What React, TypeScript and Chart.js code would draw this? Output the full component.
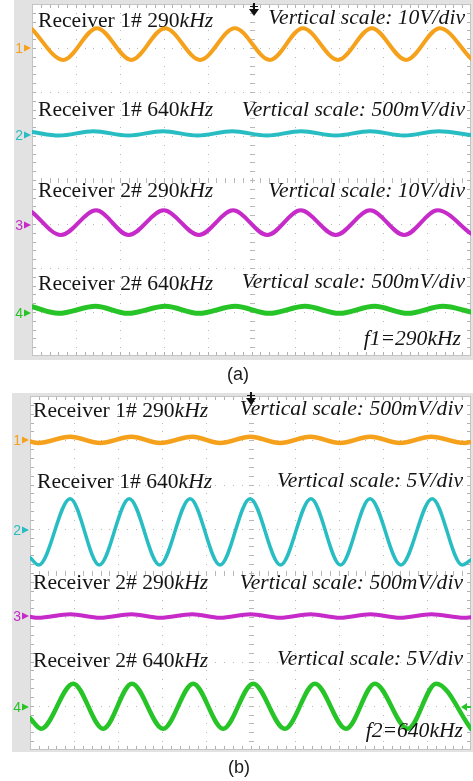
import React, { useEffect, useRef } from "react";
import { Chart, registerables } from "chart.js";

Chart.register(...registerables);

// ---------- DATA (x in divisions 0..10, y in divisions 0..8, 0 = bottom) ----------
// Panel (a): f1 = 290 kHz
const a1X = [0, 0.71, 1.48, 2.26, 3.03, 3.83, 4.62, 5.42, 6.17, 6.97, 7.74, 8.52, 9.29, 10];
const a1Y = [7.43, 6.73, 7.45, 6.73, 7.45, 6.73, 7.45, 6.73, 7.45, 6.73, 7.45, 6.73, 7.45, 6.76];
const a2X = [0, 0.62, 1.4, 2.19, 2.98, 3.77, 4.56, 5.35, 6.13, 6.92, 7.7, 8.48, 9.26, 10];
const a2Y = [5.09, 5.01, 5.11, 5.01, 5.11, 5.01, 5.11, 5.01, 5.11, 5.01, 5.11, 5.01, 5.11, 5.02];
const a3X = [0, 0.66, 1.46, 2.2, 3.0, 3.8, 4.58, 5.36, 6.12, 6.92, 7.7, 8.48, 9.24, 10];
const a3Y = [3.27, 2.75, 3.31, 2.75, 3.31, 2.75, 3.31, 2.75, 3.31, 2.75, 3.31, 2.75, 3.31, 2.78];
const a4X = [0, 0.6, 1.45, 2.18, 3.04, 3.8, 4.63, 5.4, 6.22, 7.0, 7.8, 8.56, 9.36, 10];
const a4Y = [1.12, 0.97, 1.13, 0.97, 1.13, 0.97, 1.13, 0.97, 1.13, 0.97, 1.13, 0.97, 1.13, 1.0];

// Panel (b): f2 = 640 kHz
const b1X = [0, 0.18, 0.91, 1.59, 2.3, 2.95, 3.68, 4.31, 5.0, 5.67, 6.36, 7.03, 7.72, 8.39, 9.1, 9.85, 10];
const b1Y = [6.97, 6.94, 7.08, 6.94, 7.08, 6.94, 7.08, 6.94, 7.08, 6.94, 7.08, 6.94, 7.08, 6.94, 7.08, 6.94, 6.96];
const b2X = [0, 0.2, 0.91, 1.57, 2.25, 2.94, 3.63, 4.31, 4.99, 5.68, 6.37, 7.04, 7.71, 8.41, 9.12, 9.8, 10];
const b2Y = [4.35, 4.18, 5.68, 4.18, 5.68, 4.18, 5.68, 4.18, 5.68, 4.18, 5.68, 4.18, 5.68, 4.18, 5.68, 4.18, 4.3];
const b3X = [0, 0.18, 0.91, 1.59, 2.3, 2.95, 3.68, 4.31, 5.0, 5.67, 6.36, 7.03, 7.72, 8.39, 9.1, 9.85, 10];
const b3Y = [3.01, 2.99, 3.07, 2.99, 3.07, 2.99, 3.07, 2.99, 3.07, 2.99, 3.07, 2.99, 3.07, 2.99, 3.07, 2.99, 3.0];
const b4X = [0, 0.25, 0.98, 1.66, 2.31, 3.02, 3.7, 4.38, 5.06, 5.78, 6.46, 7.17, 7.82, 8.57, 9.21, 10];
const b4Y = [0.72, 0.48, 1.5, 0.48, 1.5, 0.48, 1.5, 0.48, 1.5, 0.48, 1.5, 0.48, 1.5, 0.48, 1.5, 0.48];

// ---------- TEXT ----------
const receiverNames = ["Receiver 1# 290", "Receiver 1# 640", "Receiver 2# 290", "Receiver 2# 640"];
const freqUnit = "kHz";
const scaleTextA = ["10V/div", "500mV/div", "10V/div", "500mV/div"];
const scaleTextB = ["500mV/div", "5V/div", "500mV/div", "5V/div"];
const scalePrefix = "Vertical scale: ";
const noteA = "f1=290kHz";
const noteB = "f2=640kHz";
const channelNums = ["1", "2", "3", "4"];
const captions = ["(a)", "(b)"];

// ---------- STYLE ----------
const colors = ["#f6a11c", "#28bdc2", "#c62bc9", "#27c427"];

type Seg = { t: string; it: boolean };

function fontOf(it: boolean, size: number) {
  return `${it ? "italic " : ""}${size}px "Liberation Serif", "Times New Roman", serif`;
}

function drawRich(ctx: CanvasRenderingContext2D, segs: Seg[], x: number, y: number, align: "left" | "right", size: number, sx: number) {
  const widths = segs.map((s) => {
    ctx.font = fontOf(s.it, size);
    return ctx.measureText(s.t).width * sx;
  });
  const total = widths.reduce((a, b) => a + b, 0);
  let cx = align === "right" ? x - total : x;
  ctx.textAlign = "left";
  ctx.textBaseline = "alphabetic";
  segs.forEach((s, i) => {
    ctx.save();
    ctx.translate(cx, y);
    ctx.scale(sx, 1);
    ctx.font = fontOf(s.it, size);
    ctx.fillText(s.t, 0, 0);
    ctx.restore();
    cx += widths[i];
  });
}

type PanelCfg = {
  frame: [number, number, number, number];
  leftX: number[];
  leftBase: number[];
  rightX: number;
  rightBase: number[];
  scaleTexts: string[];
  note: string;
  noteX: number;
  noteBase: number;
  markerY: number[];
  triggerX: number;
  triggerY: number;
  caption: string;
  captionX: number;
  captionBase: number;
  rightArrowY?: number;
};

function scopePlugin(cfg: PanelCfg) {
  return {
    id: "scope",
    beforeDraw(chart: any) {
      const ctx: CanvasRenderingContext2D = chart.ctx;
      const { left, right, top, bottom } = chart.chartArea;
      ctx.save();
      ctx.fillStyle = "#ffffff";
      ctx.fillRect(0, 0, chart.width, chart.height);
      const [fx, fy, fw, fh] = cfg.frame;
      ctx.fillStyle = "#e2e2e2";
      ctx.fillRect(fx, fy, fw, fh);
      ctx.fillStyle = "#ffffff";
      ctx.fillRect(left, top, right - left, bottom - top);
      ctx.restore();
    },
    beforeDatasetsDraw(chart: any) {
      const ctx: CanvasRenderingContext2D = chart.ctx;
      const xs = chart.scales.x;
      const ys = chart.scales.y;
      const { left, right, top, bottom } = chart.chartArea;
      ctx.save();
      // dotted grid
      ctx.fillStyle = "#b9b9b9";
      for (let i = 1; i < 10; i++) {
        const px = Math.round(xs.getPixelForValue(i));
        for (let j = 1; j < 40; j++) {
          const py = Math.round(ys.getPixelForValue(j / 5));
          ctx.fillRect(px, py, 1, 1);
        }
      }
      for (let j = 1; j < 8; j++) {
        const py = Math.round(ys.getPixelForValue(j));
        for (let i = 1; i < 50; i++) {
          const px = Math.round(xs.getPixelForValue(i / 5));
          ctx.fillRect(px, py, 1, 1);
        }
      }
      // center cross ticks
      ctx.fillStyle = "#b8b8b8";
      const cx = Math.round(xs.getPixelForValue(5));
      const cy = Math.round(ys.getPixelForValue(4));
      for (let j = 1; j < 40; j++) {
        const py = Math.round(ys.getPixelForValue(j / 5));
        ctx.fillRect(cx - 2, py, 5, 1);
      }
      for (let i = 1; i < 50; i++) {
        const px = Math.round(xs.getPixelForValue(i / 5));
        ctx.fillRect(px, cy - 2, 1, 5);
      }
      // border ticks
      ctx.fillStyle = "#b0b0b0";
      for (let j = 1; j < 40; j++) {
        const py = Math.round(ys.getPixelForValue(j / 5));
        ctx.fillRect(left, py, 4, 1);
        ctx.fillRect(right - 4, py, 4, 1);
      }
      for (let i = 1; i < 50; i++) {
        const px = Math.round(xs.getPixelForValue(i / 5));
        ctx.fillRect(px, top, 1, 4);
        ctx.fillRect(px, bottom - 4, 1, 4);
      }
      ctx.strokeStyle = "#c4c4c4";
      ctx.lineWidth = 1;
      ctx.strokeRect(left + 0.5, top + 0.5, right - left - 1, bottom - top - 1);
      ctx.restore();
    },
    afterDatasetsDraw(chart: any) {
      const ctx: CanvasRenderingContext2D = chart.ctx;
      ctx.save();
      ctx.fillStyle = "#141414";
      // texts
      receiverNames.forEach((name, i) => {
        drawRich(ctx, [{ t: name, it: false }, { t: freqUnit, it: true }], cfg.leftX[i], cfg.leftBase[i], "left", 20, 1.08);
        drawRich(ctx, [{ t: scalePrefix + cfg.scaleTexts[i], it: true }], cfg.rightX, cfg.rightBase[i], "right", 20, 1.08);
      });
      drawRich(ctx, [{ t: cfg.note, it: true }], cfg.noteX, cfg.noteBase, "right", 20, 1.08);
      // channel markers
      channelNums.forEach((n, i) => {
        const y = cfg.markerY[i];
        const x0 = chart.chartArea.left;
        ctx.fillStyle = colors[i];
        ctx.font = `14px "Liberation Sans", Arial, sans-serif`;
        ctx.textAlign = "right";
        ctx.textBaseline = "middle";
        ctx.fillText(n, x0 - 9, y + 1);
        ctx.beginPath();
        ctx.moveTo(x0 - 8, y - 3.5);
        ctx.lineTo(x0 - 1, y);
        ctx.lineTo(x0 - 8, y + 3.5);
        ctx.closePath();
        ctx.fill();
      });
      // trigger marker
      ctx.fillStyle = "#111";
      const tx = cfg.triggerX;
      const ty = cfg.triggerY;
      ctx.fillRect(tx - 1, ty, 2, 7);
      ctx.fillRect(tx - 4, ty + 3, 8, 1);
      ctx.beginPath();
      ctx.moveTo(tx - 5, ty + 6);
      ctx.lineTo(tx + 5, ty + 6);
      ctx.lineTo(tx, ty + 13);
      ctx.closePath();
      ctx.fill();
      // right-side arrow
      if (cfg.rightArrowY !== undefined) {
        const ry = cfg.rightArrowY;
        const rx = chart.chartArea.right;
        ctx.fillStyle = colors[3];
        ctx.beginPath();
        ctx.moveTo(rx - 10, ry);
        ctx.lineTo(rx - 4, ry - 4);
        ctx.lineTo(rx - 4, ry + 4);
        ctx.closePath();
        ctx.fill();
        ctx.fillRect(rx - 5, ry - 1, 5, 2);
      }
      // caption
      ctx.fillStyle = "#1a1a1a";
      ctx.font = `18px "Liberation Sans", Arial, sans-serif`;
      ctx.textAlign = "center";
      ctx.textBaseline = "alphabetic";
      ctx.fillText(cfg.caption, cfg.captionX, cfg.captionBase);
      ctx.restore();
    },
  };
}

function makeDatasets(xsArr: number[][], ysArr: number[][], widths: number[]) {
  return xsArr.map((xa, k) => ({
    data: xa.map((x, i) => ({ x, y: ysArr[k][i] })),
    borderColor: colors[k],
    borderWidth: widths[k],
    pointRadius: 0,
    fill: false,
    cubicInterpolationMode: "monotone" as const,
    borderJoinStyle: "round" as const,
    borderCapStyle: "round" as const,
  }));
}

function ScopePanel(props: {
  top: number;
  height: number;
  padding: { left: number; right: number; top: number; bottom: number };
  xsArr: number[][];
  ysArr: number[][];
  widths: number[];
  cfg: PanelCfg;
}) {
  const ref = useRef<HTMLCanvasElement | null>(null);
  useEffect(() => {
    if (!ref.current) return;
    const chart = new Chart(ref.current, {
      type: "line",
      data: { datasets: makeDatasets(props.xsArr, props.ysArr, props.widths) as any },
      options: {
        responsive: false,
        animation: false,
        events: [],
        layout: { padding: props.padding },
        plugins: { legend: { display: false }, tooltip: { enabled: false }, title: { display: false } },
        scales: {
          x: { type: "linear", min: 0, max: 10, display: false },
          y: { type: "linear", min: 0, max: 8, display: false },
        },
      },
      plugins: [scopePlugin(props.cfg)],
    });
    return () => chart.destroy();
  }, []);
  return (
    <canvas
      ref={ref}
      width={473}
      height={props.height}
      style={{ position: "absolute", left: 0, top: props.top, width: 473, height: props.height }}
    />
  );
}

const cfgA: PanelCfg = {
  frame: [14, 0, 459, 360],
  leftX: [38, 38, 38, 38],
  leftBase: [27, 116, 197, 290],
  rightX: 465,
  rightBase: [24, 116, 197, 288],
  scaleTexts: scaleTextA,
  note: noteA,
  noteX: 461,
  noteBase: 345,
  markerY: [48, 135, 225, 313],
  triggerX: 254,
  triggerY: 3,
  caption: captions[0],
  captionX: 238,
  captionBase: 380,
};

const cfgB: PanelCfg = {
  frame: [12, 3, 461, 359],
  leftX: [33, 37, 33, 33],
  leftBase: [27, 98, 199, 277],
  rightX: 463,
  rightBase: [25, 97, 199, 275],
  scaleTexts: scaleTextB,
  note: noteB,
  noteX: 463,
  noteBase: 347,
  markerY: [50, 140, 226, 317],
  triggerX: 251,
  triggerY: 2,
  caption: captions[1],
  captionX: 239,
  captionBase: 383,
  rightArrowY: 317,
};

export default function App() {
  return (
    <div style={{ position: "absolute", left: 0, top: 0, width: 473, height: 781, background: "#fff", overflow: "hidden" }}>
      <ScopePanel
        top={0}
        height={390}
        padding={{ left: 32, right: 2, top: 4, bottom: 34 }}
        xsArr={[a1X, a2X, a3X, a4X]}
        ysArr={[a1Y, a2Y, a3Y, a4Y]}
        widths={[4, 4, 4, 5]}
        cfg={cfgA}
      />
      <ScopePanel
        top={390}
        height={391}
        padding={{ left: 30, right: 2, top: 6, bottom: 31 }}
        xsArr={[b1X, b2X, b3X, b4X]}
        ysArr={[b1Y, b2Y, b3Y, b4Y]}
        widths={[4.5, 3.5, 4, 4.5]}
        cfg={cfgB}
      />
    </div>
  );
}
